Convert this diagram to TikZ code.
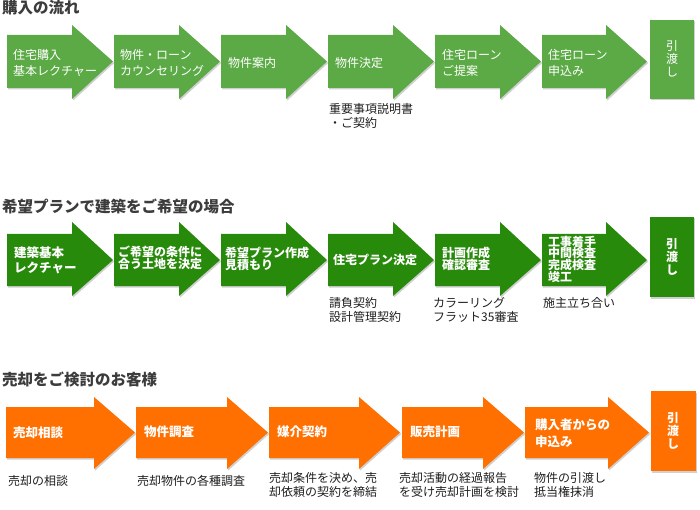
\documentclass[tikz,border=0pt]{standalone}
\usepackage{fontspec}
\setmainfont{Noto Sans CJK JP}
\definecolor{gA}{RGB}{92,170,70}
\definecolor{gB}{RGB}{40,138,10}
\definecolor{oC}{RGB}{255,112,0}
\definecolor{titlec}{RGB}{60,60,60}
\newcommand\myflowshape[7]{%
  \fill[black!30,opacity=0.6,xshift=1.2pt,yshift=-1.5pt] (#2,#4) -- ({#3-41},#4) -- ({#3-41},#6) -- (#3,{(#4+#5)/2}) -- ({#3-41},#7) -- ({#3-41},#5) -- (#2,#5) -- cycle;
  \fill[#1] (#2,#4) -- ({#3-41},#4) -- ({#3-41},#6) -- (#3,{(#4+#5)/2}) -- ({#3-41},#7) -- ({#3-41},#5) -- (#2,#5) -- cycle;
}
\newcommand\myhandoverbox[5]{%
  \fill[black!30,opacity=0.6,xshift=1.2pt,yshift=-1.5pt] (#2,#4) rectangle (#3,#5);
  \fill[#1] (#2,#4) rectangle (#3,#5);
}
\begin{document}
\begin{tikzpicture}[x=1pt,y=-1pt,
  title/.style={anchor=west,inner sep=0,text=titlec,font=\fontsize{15.5}{17}\selectfont\bfseries},
  labA/.style={anchor=west,align=left,inner sep=0,text=white,font=\fontsize{12}{16}\selectfont},
  labB/.style={anchor=west,align=left,inner sep=0,text=white,font=\fontsize{12}{12.5}\selectfont\bfseries},
  labC/.style={anchor=west,align=left,inner sep=0,text=white,font=\fontsize{12.5}{17}\selectfont\bfseries},
  handA/.style={align=center,inner sep=0,text=white,font=\fontsize{12}{13}\selectfont},
  handB/.style={align=center,inner sep=0,text=white,font=\fontsize{12}{13}\selectfont\bfseries},
  note/.style={anchor=west,align=left,inner sep=0,text=black!88,font=\fontsize{12}{14.5}\selectfont}]
\useasboundingbox[fill=white] (0,0) rectangle (700,510);

% ---------- Row 1 ----------
\node[title] (t1) at (2,8) {購入の流れ};
\myflowshape{gA}{7}{113}{35}{88}{25}{99}
\myflowshape{gA}{114}{220}{35}{88}{25}{99}
\myflowshape{gA}{221}{327}{35}{88}{25}{99}
\myflowshape{gA}{328}{434}{35}{88}{25}{99}
\myflowshape{gA}{435}{541}{35}{88}{25}{99}
\myflowshape{gA}{542}{647}{35}{88}{25}{99}
\myhandoverbox{gA}{650}{694}{20}{99}
\node[labA] (a1) at (13,63) {住宅購入\\基本レクチャー};
\node[labA] (a2) at (120,63) {物件・ローン\\カウンセリング};
\node[labA] (a3) at (228,63) {物件案内};
\node[labA] (a4) at (335,63) {物件決定};
\node[labA] (a5) at (442,63) {住宅ローン\\ご提案};
\node[labA] (a6) at (548,63) {住宅ローン\\申込み};
\node[handA] (a7) at (672,59) {引\\渡\\し};
\node[note] (n1) at (329,116) {重要事項説明書\\・ご契約};

% ---------- Row 2 ----------
\node[title] (t2) at (2,206) {希望プランで建築をご希望の場合};
\myflowshape{gB}{7}{113}{234}{286}{222}{296}
\myflowshape{gB}{114}{220}{234}{286}{222}{296}
\myflowshape{gB}{221}{327}{234}{286}{222}{296}
\myflowshape{gB}{328}{434}{234}{286}{222}{296}
\myflowshape{gB}{435}{541}{234}{286}{222}{296}
\myflowshape{gB}{542}{647}{234}{286}{222}{296}
\myhandoverbox{gB}{650}{694}{217}{297}
\node[labB,font=\fontsize{12.5}{15}\selectfont\bfseries] (b1) at (14,260) {建築基本\\レクチャー};
\node[labB] (b2) at (118,258) {ご希望の条件に\\合う土地を決定};
\node[labB] (b3) at (225,259) {希望プラン作成\\見積もり};
\node[labB] (b4) at (333,260) {住宅プラン決定};
\node[labB] (b5) at (442,259) {計画作成\\確認審査};
\node[labB,font=\fontsize{12}{11.7}\selectfont\bfseries] (b6) at (548,259) {工事着手\\中間検査\\完成検査\\竣工};
\node[handB] (b7) at (672,257) {引\\渡\\し};
\node[note] (n2) at (329,310) {請負契約\\設計管理契約};
\node[note] (n3) at (433,310) {カラーリング\\フラット35審査};
\node[note] (n4) at (543,303) {施主立ち合い};

% ---------- Row 3 ----------
\node[title] (t3) at (2,379) {売却をご検討のお客様};
\myflowshape{oC}{6}{135}{407}{458}{397}{469}
\myflowshape{oC}{136}{268}{407}{458}{397}{469}
\myflowshape{oC}{269}{400}{407}{458}{397}{469}
\myflowshape{oC}{402}{524}{407}{458}{397}{469}
\myflowshape{oC}{525}{649}{407}{458}{397}{469}
\myhandoverbox{oC}{651}{696}{391}{471}
\node[labC] (c1) at (13,433) {売却相談};
\node[labC] (c2) at (144,432) {物件調査};
\node[labC] (c3) at (277,432) {媒介契約};
\node[labC] (c4) at (410,432) {販売計画};
\node[labC] (c5) at (535,433) {購入者からの\\申込み};
\node[handB] (c6) at (673,431) {引\\渡\\し};
\node[note] (n5) at (8,481) {売却の相談};
\node[note] (n6) at (137,481) {売却物件の各種調査};
\node[note] (n7) at (269,485) {売却条件を決め、売\\却依頼の契約を締結};
\node[note] (n8) at (399,485) {売却活動の経過報告\\を受け売却計画を検討};
\node[note] (n9) at (534,485) {物件の引渡し\\抵当権抹消};
\end{tikzpicture}
\end{document}
